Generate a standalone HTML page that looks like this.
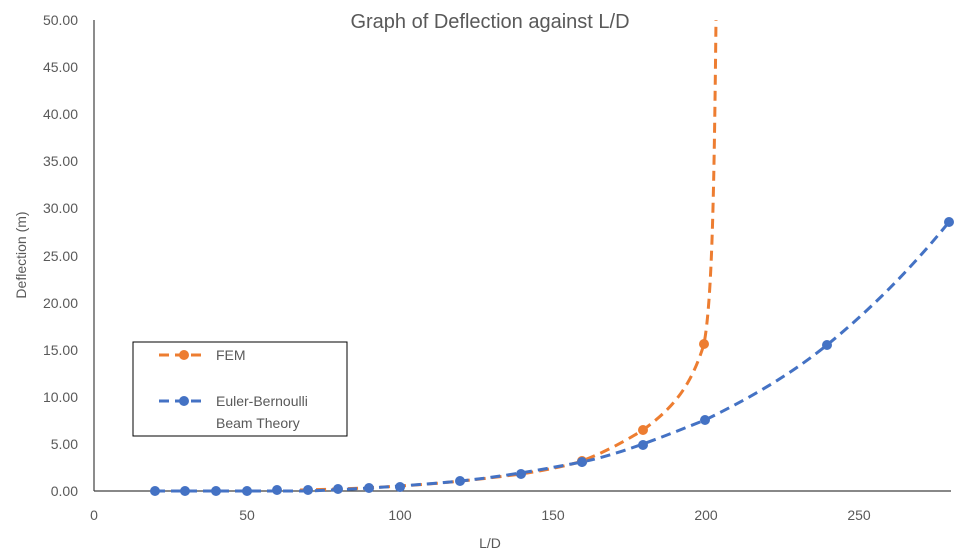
<!DOCTYPE html>
<html><head><style>body{margin:0;background:#fff}svg{display:block}text{font-family:"Liberation Sans",sans-serif;fill:#595959}</style></head><body>
<svg width="970" height="551" viewBox="0 0 970 551">
<rect width="970" height="551" fill="#fff"/>
<text x="490" y="28" font-size="20" text-anchor="middle">Graph of Deflection against L/D</text>
<line x1="94" y1="20" x2="94" y2="491" stroke="#404040" stroke-width="1.2"/>
<line x1="94" y1="491" x2="951" y2="491" stroke="#404040" stroke-width="1.2"/>
<g font-size="14" text-anchor="end">
<text x="78" y="496">0.00</text><text x="78" y="449">5.00</text><text x="78" y="402">10.00</text><text x="78" y="355">15.00</text><text x="78" y="308">20.00</text><text x="78" y="261">25.00</text><text x="78" y="213">30.00</text><text x="78" y="166">35.00</text><text x="78" y="119">40.00</text><text x="78" y="72">45.00</text><text x="78" y="25">50.00</text>
</g>
<g font-size="14" text-anchor="middle">
<text x="94" y="520">0</text><text x="247" y="520">50</text><text x="400" y="520">100</text><text x="553" y="520">150</text><text x="706" y="520">200</text><text x="859" y="520">250</text>
</g>
<text x="490" y="548" font-size="14" text-anchor="middle">L/D</text>
<text transform="translate(26,255) rotate(-90)" font-size="14" text-anchor="middle">Deflection (m)</text>
<path d="M300,490 C400,488 460,482 521,474 C560,468 580,462 582,461 C610,450 630,438 643,430 C670,410 690,390 704,344 C712,300 714,200 716,20" fill="none" stroke="#ED7D31" stroke-width="3" stroke-dasharray="10,6"/>
<path d="M155,491 L308,491 C360,489 420,485 460,481 C500,477 540,470 582,462 C620,454 660,438 705,420 C750,398 790,375 827,345 C870,310 910,270 949,222" fill="none" stroke="#4472C4" stroke-width="3" stroke-dasharray="10,6"/>
<g fill="#4472C4">
<circle cx="155" cy="491" r="5"/><circle cx="185" cy="491" r="5"/><circle cx="216" cy="491" r="5"/><circle cx="247" cy="491" r="5"/><circle cx="277" cy="490" r="5"/><circle cx="308" cy="490" r="5"/><circle cx="338" cy="489" r="5"/><circle cx="369" cy="488" r="5"/><circle cx="400" cy="487" r="5"/><circle cx="460" cy="481" r="5"/><circle cx="521" cy="474" r="5"/><circle cx="582" cy="462" r="5"/><circle cx="643" cy="445" r="5"/><circle cx="705" cy="420" r="5"/><circle cx="827" cy="345" r="5"/><circle cx="949" cy="222" r="5"/>
</g>
<g fill="#ED7D31"><circle cx="582" cy="461" r="5"/><circle cx="643" cy="430" r="5"/><circle cx="704" cy="344" r="5"/></g>
<circle cx="582" cy="462" r="5" fill="#4472C4"/>
<rect x="133" y="342" width="214" height="94" fill="#fff" stroke="#000" stroke-width="1"/>
<line x1="159" y1="355" x2="206" y2="355" stroke="#ED7D31" stroke-width="3" stroke-dasharray="10,6"/>
<circle cx="184" cy="355" r="5" fill="#ED7D31"/>
<text x="216" y="360" font-size="14">FEM</text>
<line x1="159" y1="401" x2="206" y2="401" stroke="#4472C4" stroke-width="3" stroke-dasharray="10,6"/>
<circle cx="184" cy="401" r="5" fill="#4472C4"/>
<text x="216" y="406" font-size="14">Euler-Bernoulli</text>
<text x="216" y="428" font-size="14">Beam Theory</text>
</svg>
</body></html>
